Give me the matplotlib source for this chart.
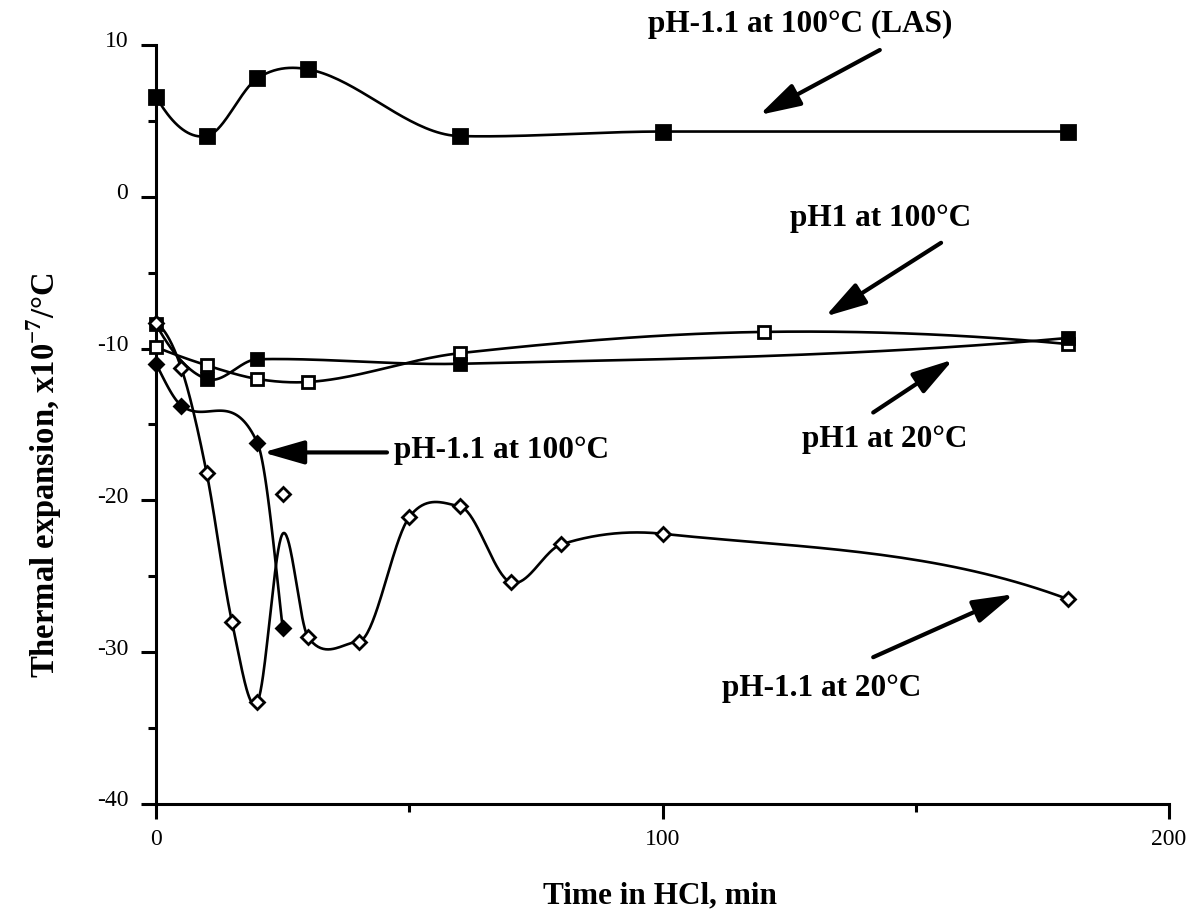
import numpy as np
import matplotlib
matplotlib.use("Agg")
import matplotlib.pyplot as plt
from matplotlib.ticker import MultipleLocator
from matplotlib.transforms import ScaledTranslation

plt.rcParams.update({
    "font.family": "Liberation Serif",
    "axes.unicode_minus": False,
    "mathtext.fontset": "custom",
    "mathtext.rm": "Liberation Serif",
    "mathtext.bf": "Liberation Serif:bold",
})

# thermal expansion (x10^-7/°C) vs. time in HCl (min)
t_las = [0, 10, 20, 30, 60, 100, 180]
las_100 = [6.6, 4.0, 7.8, 8.4, 4.0, 4.3, 4.3]

t_ph1_100 = [0, 10, 20, 30, 60, 120, 180]
ph1_100 = [-9.9, -11.1, -12.0, -12.2, -10.3, -8.9, -9.7]

t_ph1_20 = [0, 10, 20, 60, 180]
ph1_20 = [-8.4, -12.0, -10.7, -11.0, -9.3]

t_acid_100 = [0, 5, 20, 25]
acid_100 = [-11.0, -13.75, -16.2, -28.4]

t_acid_20 = [0, 5, 10, 15, 20, 25, 30, 40, 50, 60, 70, 80, 100, 180]
acid_20 = [-8.3, -11.3, -18.2, -28.0, -33.3, -19.6, -29.0, -29.3,
           -21.1, -20.4, -25.4, -22.9, -22.2, -26.5]
# fit weights for the curve (the 25 min reading is only loosely followed)
w_acid_20 = [1e4, 1e4, 1e4, 1e4, 1e4, 1, 1e4, 1e4, 1e4, 1e4, 1e4, 1e4, 1e4, 1e4]


def smooth_knots(x, y, w, lam):
    """Knot values of a weighted smoothing spline (Reinsch)."""
    x = np.asarray(x, float)
    y = np.asarray(y, float)
    n = len(x)
    h = np.diff(x)
    Q = np.zeros((n, n - 2))
    R = np.zeros((n - 2, n - 2))
    for j in range(1, n - 1):
        Q[j - 1, j - 1] = 1 / h[j - 1]
        Q[j, j - 1] = -1 / h[j - 1] - 1 / h[j]
        Q[j + 1, j - 1] = 1 / h[j]
        R[j - 1, j - 1] = (h[j - 1] + h[j]) / 3
        if j < n - 2:
            R[j - 1, j] = R[j, j - 1] = h[j] / 6
    winv = 1 / np.asarray(w, float)
    g = np.linalg.solve(R + lam * Q.T @ (winv[:, None] * Q), Q.T @ y)
    return y - lam * winv * (Q @ g)


def end_slope(h0, h1, d0, d1):
    m = ((2 * h0 + h1) * d0 - h0 * d1) / (h0 + h1)
    if np.sign(m) != np.sign(d0):
        return 0.0
    if np.sign(d0) != np.sign(d1) and abs(m) > 3 * abs(d0):
        return 3 * d0
    return m


def curve(x, y, num=40):
    """Cubic Hermite curve: centred slopes, damped at turning points."""
    x = np.asarray(x, float)
    y = np.asarray(y, float)
    h = np.diff(x)
    d = np.diff(y) / h
    m = np.empty_like(y)
    m[1:-1] = (y[2:] - y[:-2]) / (x[2:] - x[:-2])
    turn = d[:-1] * d[1:] <= 0
    lim = np.minimum(np.abs(d[:-1]), np.abs(d[1:]))
    m[1:-1] = np.where(turn, np.clip(m[1:-1], -lim, lim), m[1:-1])
    if len(x) > 2:
        m[0] = end_slope(h[0], h[1], d[0], d[1])
        m[-1] = end_slope(h[-1], h[-2], d[-1], d[-2])
    else:
        m[:] = d[0]
    xs, ys = [], []
    for i in range(len(x) - 1):
        s = np.linspace(0, 1, num, endpoint=(i == len(x) - 2))
        h00 = 2 * s**3 - 3 * s**2 + 1
        h10 = s**3 - 2 * s**2 + s
        h01 = -2 * s**3 + 3 * s**2
        h11 = s**3 - s**2
        xs.append(x[i] + s * h[i])
        ys.append(h00 * y[i] + h10 * h[i] * m[i] + h01 * y[i + 1]
                  + h11 * h[i] * m[i + 1])
    return np.concatenate(xs), np.concatenate(ys)


fig = plt.figure(figsize=(11.92, 9.13), dpi=100)
ax = fig.add_axes([0.1309, 0.1194, 0.8498, 0.8313])

series = [
    (t_las, las_100, las_100, "s", "black", 9.5),
    (t_ph1_100, ph1_100, ph1_100, "s", "white", 9.0),
    (t_ph1_20, ph1_20, ph1_20, "s", "black", 9.0),
    (t_acid_100, acid_100, acid_100, "D", "black", 7.5),
    (t_acid_20, acid_20, smooth_knots(t_acid_20, acid_20, w_acid_20, 2.6),
     "D", "white", 7.5),
]
for t, v, knots, mk, fc, ms in series:
    xs, ys = curve(t, knots)
    ax.plot(xs, ys, color="black", lw=1.9, zorder=2)
    ax.plot(t, v, ls="none", marker=mk, ms=ms, mfc=fc, mec="black",
            mew=2.0, zorder=3, clip_on=False)

ax.set_xlim(0, 200)
ax.set_ylim(-40, 10)
for s in ("top", "right"):
    ax.spines[s].set_visible(False)
for s in ("left", "bottom"):
    ax.spines[s].set_linewidth(2.2)

ax.xaxis.set_major_locator(MultipleLocator(100))
ax.xaxis.set_minor_locator(MultipleLocator(50))
ax.yaxis.set_major_locator(MultipleLocator(10))
ax.yaxis.set_minor_locator(MultipleLocator(5))
ax.tick_params(which="major", direction="out", length=11, width=2.2,
               labelsize=17)
ax.tick_params(which="minor", direction="out", length=6, width=2.2)
ax.tick_params(axis="y", pad=9)
ax.tick_params(axis="x", pad=7)
for lab in ax.get_yticklabels():
    lab.set_transform(lab.get_transform() +
                      ScaledTranslation(0, 4 / 72, fig.dpi_scale_trans))

fig.text(660 / 1192, 1 - 903 / 913, "Time in HCl, min", ha="center",
         va="baseline", fontsize=22.5, fontweight="bold")
fig.text(44 / 1192, 1 - 475 / 913,
         r"Thermal expansion, x10$^{\mathbf{-7}}$/°C", rotation=90,
         ha="center", va="center", fontsize=23.5, fontweight="bold")

# curve labels with pointer arrows
arrow = dict(arrowstyle="-|>,head_length=1.25,head_width=0.36", lw=3,
             color="black", mutation_scale=20, shrinkA=0, shrinkB=0)
labels = [
    ("pH-1.1 at 100°C (LAS)", (127.1, 10.86), "center", (142.9, 9.67), (119.1, 5.39)),
    ("pH1 at 100°C", (143.1, -1.91), "center", (155.0, -3.03), (132.1, -7.89)),
    ("pH1 at 20°C", (143.9, -16.45), "center", (141.6, -14.21), (157.4, -10.72)),
    ("pH-1.1 at 100°C", (46.9, -17.2), "left", (45.6, -16.84), (21.1, -16.84)),
    ("pH-1.1 at 20°C", (131.5, -32.9), "center", (141.6, -30.33), (169.4, -26.18)),
]
for txt, (tx, ty), ha, tail, head in labels:
    ax.text(tx, ty, txt, ha=ha, va="baseline", fontsize=22.5,
            fontweight="bold", clip_on=False)
    ax.annotate("", xy=head, xytext=tail, arrowprops=arrow,
                annotation_clip=False)

fig.savefig("out.png", dpi=100)
